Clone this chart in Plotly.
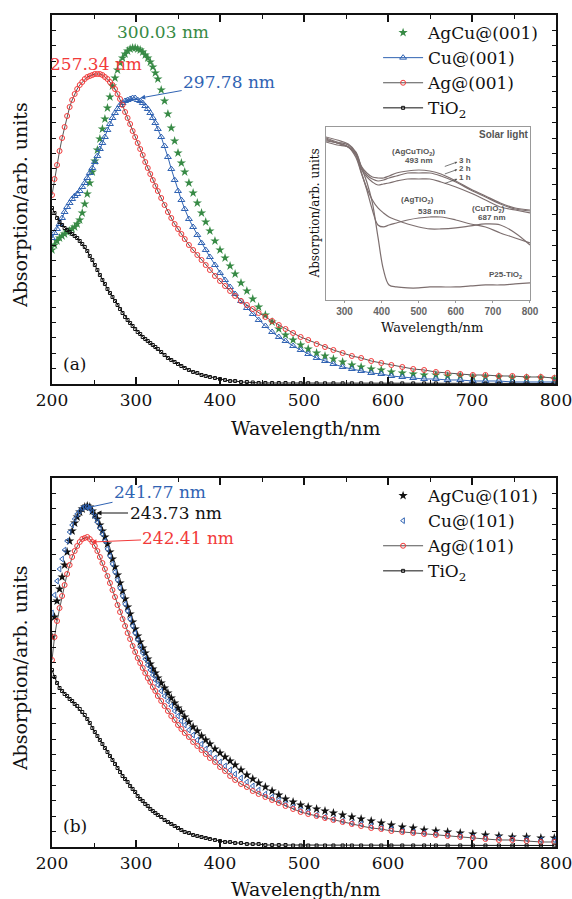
import plotly.graph_objects as go

# ---------------- data ----------------
wavelength = [200,203,206,209,212,215,218,221,224,227,230,233,236,239,242,245,248,251,254,257,
              260,263,266,269,272,275,278,281,284,287,290,293,296,299,302,305,308,311,314,317,
              320,323,326,330,334,338,342,346,350,354,358,363,368,373,378,383,388,394,400,406,
              412,418,425,432,439,446,454,462,470,478,487,496,505,515,525,535,546,557,568,580,
              592,604,617,630,643,657,671,686,701,716,732,748,765,782,798]

# panel (a) -- absorption, arbitrary units
agcu_001 = [134,139,143,146,148,150,152,153,155,157,160,164,171,180,190,201,212,223,234,245,
            255,265,276,287,298,306,314,321,326,330,333,335,336,336,335,334,332,329,326,322,
            317,311,305,294,283,270,256,243,231,221,212,201,191,181,171,162,153,143,134,126,
            118,110,101,93,85,77,69,62,55,49,44,39,35,31,28,25,22,19,17,15,
            14,12,11,10,9,9,8,8,7,7,7,6,6,6,5]
cu_001 = [146,151,155,160,166,172,177,181,185,188,190,193,197,201,206,211,216,222,228,235,
          241,247,254,260,266,271,275,279,281,283,284,285,286,286,284,283,281,278,275,271,
          266,261,255,247,238,227,215,204,193,184,175,165,157,149,141,134,127,119,111,104,
          97,90,83,76,70,64,58,52,47,43,38,34,30,26,23,20,17,15,13,11,
          10,8,7,6,5,5,4,4,3,3,3,2,2,2,2]
ag_001 = [189,205,219,233,246,257,268,277,284,290,295,299,302,305,307,308,309,310,310,310,
          309,307,305,302,299,295,290,285,279,272,266,260,253,247,241,235,229,222,216,210,
          204,198,193,186,179,172,166,160,155,150,145,139,134,129,124,119,114,108,103,98,
          93,88,83,79,75,71,67,63,59,55,51,47,44,40,37,34,31,28,26,23,
          21,19,17,15,14,12,11,10,9,9,8,8,7,7,6]
tio2_a = [176,171,166,162,159,156,154,152,150,148,146,143,140,137,133,128,124,119,114,109,
          104,100,95,91,87,83,79,75,71,67,64,61,58,55,52,50,47,45,43,41,
          39,37,35,32,29,26,24,22,20,18,16,14,12,11,9,8,7,6,5,4,
          3,3,2,2,1.5,1,1,1,1,1,0.8,0.8,0.8,0.7,0.7,0.7,0.7,0.7,0.7,0.6,
          0.6,0.6,0.6,0.6,0.6,0.6,0.6,0.6,0.5,0.5,0.5,0.5,0.5,0.5,0.5]

# panel (b)
agcu_101 = [210,230,246,258,270,282,295,306,316,324,330,335,338,340,341,340,336,332,328,322,
            316,310,303,295,288,280,272,264,256,248,240,233,225,218,211,205,199,194,188,183,
            178,174,169,164,159,154,149,144,139,135,130,125,120,116,111,107,103,98,94,90,
            86,82,77,72,68,64,60,56,52,48,45,42,40,38,36,34,32,30,28,26,
            24,22,20,19,17,16,15,14,13,12,11,10,10,9,9]
cu_101 = [234,252,266,278,288,297,306,315,322,328,333,336,339,340,340,338,335,330,325,319,
          313,306,298,291,283,275,267,259,251,243,236,228,221,214,207,200,194,188,182,177,
          172,167,162,156,151,146,141,136,131,126,122,117,112,107,103,98,94,89,85,81,
          77,73,69,65,61,57,53,50,47,43,40,37,35,32,30,28,26,24,23,21,
          19,18,16,15,14,13,12,11,10,9,9,8,8,7,7]
ag_101 = [187,210,226,239,251,262,273,282,290,296,301,305,308,309,310,308,305,301,296,290,
          284,278,271,264,257,250,242,235,228,221,214,208,201,195,189,184,179,174,169,165,
          160,156,151,146,141,136,131,127,122,118,114,110,105,101,97,93,89,85,80,76,
          71,67,63,60,56,53,50,47,44,41,38,35,33,31,29,27,25,23,21,19,
          18,16,15,14,13,12,11,10,9,8,7,7,6,5,5]
tio2_b = [177,170,164,159,156,153,151,148,146,143,141,138,135,132,128,124,119,115,111,107,
          103,99,95,91,87,83,79,75,71,68,65,61,58,55,51,48,46,43,41,38,
          36,34,32,30,27,25,23,21,19,17,15,14,12,11,10,9,8,7,6,5,
          5,4,4,3,3,3,2,2,2,2,1.5,1.5,1.5,1.5,1.5,1.5,1.5,1.5,1.5,1.5,
          1.5,1.5,1.5,1.5,1.5,1.5,1.5,1.5,1.5,1.5,1.5,1.5,1.5,1.5,1.5]

for s in (agcu_001, cu_001, ag_001, tio2_a, agcu_101, cu_101, ag_101, tio2_b):
    assert len(s) == len(wavelength), len(s)

# inset (reproduced literature plot)
inset_wl = [250,280,310,330,345,360,375,390,405,420,440,470,500,530,560,600,640,680,720,760,800]
inset_3h = [163,160,156,148,134,127,123,122,122,124,127,129,130,129,126,119,111,104,97,92,90]
inset_2h = [162,158,155,147,133,125,121,119,120,122,124,127,127,127,124,118,110,103,96,91,89]
inset_1h = [160,157,153,146,131,123,118,115,116,117,119,121,121,121,118,113,107,100,93,90,87]
inset_ag = [161,157,153,145,128,110,90,75,73,75,77,80,82,83,83,80,76,73,67,62,57]
inset_cu = [159,157,153,143,127,112,100,92,87,83,80,76,73,71,71,72,74,76,75,67,55]
inset_p25 = [158,155,153,148,133,118,97,63,30,15,13,12,12,13,13,13,14,15,15,16,17]

# ---------------- style ----------------
GREEN = "#378a45"
BLUE = "#3063b3"
RED = "#f23a3a"
BLACK = "#111111"
GRAY = "#555555"
INSET = "#7d6f6f"
SERIF = "DejaVu Serif"

fig = go.Figure()

def add(x, y, name, xa, ya, leg, mode, symbol, size, mcolor, lcolor=None, mlw=1):
    tr = dict(x=x, y=y, name=name, xaxis=xa, yaxis=ya, legend=leg, mode=mode,
              marker=dict(symbol=symbol, size=size, color=mcolor, line=dict(width=mlw, color=mcolor)))
    if lcolor:
        tr["line"] = dict(color=lcolor, width=1)
    fig.add_trace(go.Scatter(**tr))

add(wavelength, agcu_001, "AgCu@(001)", "x", "y", "legend", "markers", "star", 7, GREEN, mlw=0)
add(wavelength, cu_001, "Cu@(001)", "x", "y", "legend", "lines+markers", "triangle-up-open", 6, BLUE, BLUE)
add(wavelength, ag_001, "Ag@(001)", "x", "y", "legend", "lines+markers", "circle-open", 5, RED, GRAY)
add(wavelength, tio2_a, "TiO<sub>2</sub>", "x", "y", "legend", "lines+markers", "square-open", 3, BLACK, BLACK)

add(wavelength, agcu_101, "AgCu@(101)", "x2", "y2", "legend2", "markers", "star", 7, BLACK, mlw=0)
add(wavelength, cu_101, "Cu@(101)", "x2", "y2", "legend2", "markers", "triangle-left-open", 5, BLUE)
add(wavelength, ag_101, "Ag@(101)", "x2", "y2", "legend2", "lines+markers", "circle-open", 5, RED, GRAY)
add(wavelength, tio2_b, "TiO<sub>2</sub>", "x2", "y2", "legend2", "lines+markers", "square-open", 3, BLACK, BLACK)

for ys in (inset_3h, inset_2h, inset_1h, inset_ag, inset_cu, inset_p25):
    fig.add_trace(go.Scatter(x=inset_wl, y=ys, xaxis="x3", yaxis="y3", mode="lines",
                             line=dict(color=INSET, width=1.2, shape="spline"), showlegend=False))

main_x = dict(range=[200, 800], dtick=100, tick0=200, ticks="inside", ticklen=7, tickwidth=1.5,
              tickcolor=BLACK, showline=True, linewidth=2, linecolor=BLACK, mirror="allticks",
              showgrid=False, zeroline=False, automargin=False, ticklabeloverflow="allow",
              minor=dict(dtick=50, ticks="inside", ticklen=4, tickwidth=1, tickcolor=BLACK),
              tickfont=dict(family=SERIF, size=17, color=BLACK))
main_y = dict(range=[0, 369], dtick=15.375, tick0=0, ticks="inside", ticklen=4, tickwidth=1,
              tickcolor=BLACK, showline=True, linewidth=2, linecolor=BLACK, mirror="allticks",
              showgrid=False, zeroline=False, showticklabels=False, automargin=False)

leg_common = dict(font=dict(family=SERIF, size=17, color=BLACK), bgcolor="rgba(0,0,0,0)",
                  itemwidth=40, xanchor="left", yanchor="top", tracegroupgap=0, itemclick=False)

fig.update_layout(
    width=572, height=899, autosize=False,
    margin=dict(l=52, r=16, t=15, b=52, autoexpand=False),
    paper_bgcolor="white", plot_bgcolor="white",
    xaxis=dict(main_x, anchor="y", domain=[0, 1]),
    yaxis=dict(main_y, anchor="x", domain=[0.5565, 1]),
    xaxis2=dict(main_x, anchor="y2", domain=[0, 1]),
    yaxis2=dict(main_y, anchor="x2", domain=[0, 0.4435]),
    xaxis3=dict(range=[250, 800], domain=[0.5437, 0.9484], anchor="y3", automargin=False,
                tickvals=[300, 400, 500, 600, 700, 800], ticks="outside", ticklen=2,
                tickcolor="#999", showline=True, linewidth=1, linecolor="#999", mirror=True,
                showgrid=False, zeroline=False, ticklabeloverflow="allow",
                tickfont=dict(family="Liberation Sans", size=10, color="#666", weight="bold")),
    yaxis3=dict(range=[0, 173], domain=[0.6575, 0.8654], anchor="x3", showticklabels=False,
                ticks="", showline=True, linewidth=1, linecolor="#999", mirror=True,
                showgrid=False, zeroline=False, automargin=False),
    legend=dict(leg_common, x=0.647, y=1.0),
    legend2=dict(leg_common, x=0.647, y=0.4435),
    showlegend=True,
)

ann = []
def text(x, y, t, size=17, color=BLACK, xref="paper", yref="paper", angle=0, family=SERIF, **kw):
    ann.append(dict(x=x, y=y, text=t, xref=xref, yref=yref, showarrow=False, textangle=angle,
                    xanchor="center", yanchor="middle",
                    font=dict(family=family, size=size, color=color), **kw))

# axis titles
text(0.502, 0.5036, "Wavelength/nm", size=19)
text(0.502, -0.0505, "Wavelength/nm", size=19)
text(-0.0635, 0.7716, "Absorption/arb. units", size=19, angle=-90)
text(-0.0635, 0.215, "Absorption/arb. units", size=19, angle=-90)

# panel labels and peak labels
text(227, 20, "(a)", xref="x", yref="y")
text(227, 21, "(b)", xref="x2", yref="y2")
text(332, 352, "300.03 nm", color=GREEN, xref="x", yref="y")
text(252, 320, "257.34 nm", color=RED, xref="x", yref="y")

def arrow(x, y, ax, ay, t, color, xref, yref, size=17):
    ann.append(dict(x=x, y=y, ax=ax, ay=ay, text=t, xref=xref, yref=yref, showarrow=True,
                    arrowhead=2, arrowsize=1, arrowwidth=1, arrowcolor=color,
                    font=dict(family=SERIF, size=size, color=color)))

arrow(305, 286, 89, -16, "297.78 nm", BLUE, "x", "y")
arrow(240.5, 339, 74, -16, "241.77 nm", BLUE, "x2", "y2")
arrow(253, 334, 79, 0, "243.73 nm", BLACK, "x2", "y2")
arrow(247, 305, 97, -4, "242.41 nm", RED, "x2", "y2")

# inset texts
IS = "Liberation Sans"
IC = "#555"
text(730, 165, "<b>Solar light</b>", size=10, color=IC, xref="x3", yref="y3", family=IS)
text(485, 148, "<b>(AgCuTiO<sub>2</sub>)</b>", size=8, color=IC, xref="x3", yref="y3", family=IS)
text(502, 139, "<b>493 nm</b>", size=8, color=IC, xref="x3", yref="y3", family=IS)
text(624, 139, "<b>3 h</b>", size=8, color=IC, xref="x3", yref="y3", family=IS)
text(624, 131.5, "<b>2 h</b>", size=8, color=IC, xref="x3", yref="y3", family=IS)
text(624, 122, "<b>1 h</b>", size=8, color=IC, xref="x3", yref="y3", family=IS)
for hy in (139, 131.5, 122):
    ann.append(dict(x=604, y=hy - 1, ax=-14, ay=5, xref="x3", yref="y3", text="", showarrow=True,
                    arrowhead=2, arrowsize=0.6, arrowwidth=0.8, arrowcolor=IC))
text(498, 100, "<b>(AgTiO<sub>2</sub>)</b>", size=8, color=IC, xref="x3", yref="y3", family=IS)
text(536, 88, "<b>538 nm</b>", size=8, color=IC, xref="x3", yref="y3", family=IS)
text(687, 91, "<b>(CuTiO<sub>2</sub>)</b>", size=8, color=IC, xref="x3", yref="y3", family=IS)
text(697, 82, "<b>687 nm</b>", size=8, color=IC, xref="x3", yref="y3", family=IS)
text(735, 25, "<b>P25-TiO<sub>2</sub></b>", size=8, color=IC, xref="x3", yref="y3", family=IS)
# inset axis titles
text(0.7535, 0.625, "Wavelength/nm", size=13)
text(0.5218, 0.7614, "Absorption/arb. units", size=12, angle=-90)

fig.update_layout(annotations=ann)
fig.write_html("out.html")
